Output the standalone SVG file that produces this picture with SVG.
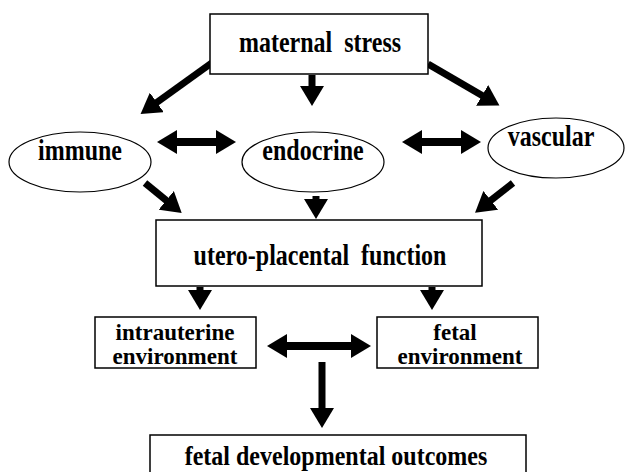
<svg xmlns="http://www.w3.org/2000/svg" width="625" height="472" viewBox="0 0 625 472">
<style>
.box{fill:#fff;stroke:#000;stroke-width:1.5}
.ell{fill:#fff;stroke:#000;stroke-width:1.2}
.t{font-family:"Liberation Serif","Times New Roman",serif;font-weight:bold;font-size:24px;fill:#000;text-anchor:middle;white-space:pre}
.t2{font-size:23px}
.a{stroke:#000;stroke-width:7;fill:none;marker-end:url(#ah)}
.d{stroke:#000;stroke-width:8;fill:none;marker-end:url(#ah);marker-start:url(#ahs)}
</style>
<defs>
<marker id="ah" markerUnits="userSpaceOnUse" markerWidth="22" markerHeight="24" refX="1" refY="12" orient="auto"><path d="M0,0 L20,12 L0,24 z" fill="#000"/></marker>
<marker id="ahs" markerUnits="userSpaceOnUse" markerWidth="22" markerHeight="24" refX="1" refY="12" orient="auto-start-reverse"><path d="M0,0 L20,12 L0,24 z" fill="#000"/></marker>
</defs>
<rect width="625" height="472" fill="#fff"/>
<g id="connectors">
<line class="a" x1="213" y1="62" x2="156" y2="103"/>
<line class="a" x1="312" y1="75" x2="312" y2="87"/>
<line class="a" x1="428" y1="64" x2="483" y2="96"/>
<line class="a" x1="145" y1="183" x2="167" y2="201"/>
<line class="a" x1="316" y1="196" x2="316" y2="200"/>
<line class="a" x1="513" y1="183" x2="490" y2="201"/>
<line class="a" x1="200" y1="287" x2="200" y2="291"/>
<line class="a" x1="432" y1="287" x2="432" y2="291"/>
<line class="d" x1="176" y1="142" x2="217" y2="142"/>
<line class="d" x1="421" y1="142" x2="462" y2="142"/>
<line class="d" x1="286" y1="346" x2="352" y2="346"/>
<line class="a" x1="322" y1="362" x2="322" y2="409"/>
</g>
<g id="maternal-stress"><rect class="box" x="210" y="14" width="218" height="60"/><text class="t" xml:space="preserve" transform="translate(320,52) scale(1,1.2)">maternal  stress</text></g>
<g id="immune"><ellipse class="ell" cx="80" cy="162" rx="71" ry="30"/><text class="t" transform="translate(80,160) scale(1,1.2)">immune</text></g>
<g id="endocrine"><ellipse class="ell" cx="313" cy="162" rx="71" ry="30"/><text class="t" transform="translate(313,160) scale(1,1.2)">endocrine</text></g>
<g id="vascular"><ellipse class="ell" cx="556" cy="148" rx="68" ry="30"/><text class="t" transform="translate(551,146) scale(1,1.2)">vascular</text></g>
<g id="utero-placental"><rect class="box" x="156" y="220" width="326" height="66"/><text class="t" xml:space="preserve" transform="translate(320,265) scale(1,1.2)">utero-placental  function</text></g>
<g id="intrauterine"><rect class="box" x="95" y="317" width="161" height="51"/><text class="t t2" x="175" y="340">intrauterine</text><text class="t t2" x="175" y="364">environment</text></g>
<g id="fetal"><rect class="box" x="377" y="317" width="161" height="51"/><text class="t t2" x="455" y="340">fetal</text><text class="t t2" x="460" y="364">environment</text></g>
<g id="outcomes"><rect class="box" x="150" y="435" width="376" height="45"/><text class="t" transform="translate(336,465) scale(1,1.15)">fetal developmental outcomes</text></g>
</svg>
